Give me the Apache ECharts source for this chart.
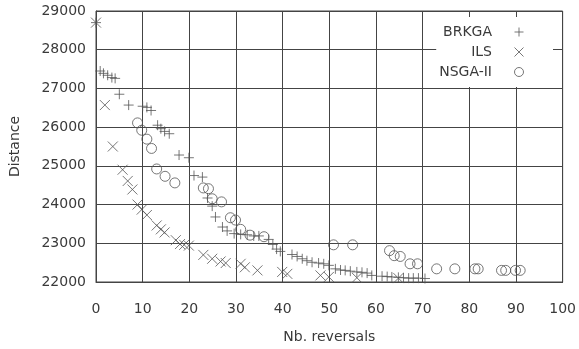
<!DOCTYPE html>
<html>
<head>
<meta charset="utf-8">
<script src="https://cdn.jsdelivr.net/npm/echarts@6/dist/echarts.min.js"></script>
<style>
  html, body { margin: 0; padding: 0; background: #fff; }
  #main { width: 579px; height: 349px; }
</style>
</head>
<body>
<div id="main"></div>
<script>
// points: [nb. reversals, distance]
const brkga = [
  [0, 28700], [0.9, 27450], [1.6, 27390], [2.5, 27340], [3.4, 27280], [4.1, 27260],
  [5.0, 26850], [7.0, 26570], [10.0, 26540], [10.9, 26510], [11.8, 26430],
  [13.2, 26050], [13.9, 25960], [14.7, 25890], [15.7, 25830],
  [17.8, 25280], [19.9, 25210], [21.0, 24750], [22.8, 24710],
  [23.9, 24170], [24.9, 23960], [25.6, 23680], [27.1, 23420], [28.1, 23320],
  [29.6, 23250], [31.0, 23230], [32.4, 23220], [33.8, 23190], [34.9, 23190],
  [37.0, 23100], [37.9, 22970], [38.7, 22850], [39.5, 22790],
  [42.0, 22710], [43.1, 22660], [44.2, 22600], [45.2, 22550], [46.3, 22510],
  [47.7, 22490], [48.8, 22470], [49.9, 22430], [51.3, 22340], [52.4, 22310],
  [53.4, 22300], [54.5, 22280], [55.9, 22260], [57.0, 22250], [58.1, 22230],
  [59.1, 22170], [61.3, 22150], [62.4, 22140], [63.4, 22130], [64.8, 22120],
  [65.9, 22110], [67.0, 22100], [68.0, 22100], [69.1, 22100], [70.5, 22090]
];
const ils = [
  [0, 28700], [1.9, 26570], [3.6, 25500], [5.7, 24900], [6.8, 24610], [7.8, 24390],
  [8.9, 24000], [9.8, 23870], [10.9, 23730], [13.0, 23460], [13.9, 23360],
  [14.7, 23280], [17.1, 23080], [18.0, 22980], [18.9, 22960], [19.9, 22940],
  [23.0, 22700], [24.9, 22600], [26.7, 22530], [27.8, 22490], [31.0, 22470],
  [31.9, 22380], [34.6, 22300], [39.9, 22260], [41.0, 22210],
  [48.1, 22170], [49.9, 22130], [55.9, 22110], [64.8, 22100]
];
const nsga = [
  [8.9, 26110], [9.8, 25920], [10.9, 25690], [11.9, 25450],
  [13.0, 24920], [14.8, 24730], [16.9, 24560],
  [23.0, 24430], [24.1, 24410], [24.9, 24150], [26.9, 24070],
  [28.8, 23660], [29.9, 23600], [31.0, 23360], [33.0, 23210], [36.0, 23170],
  [50.9, 22960], [55.0, 22960], [62.9, 22810], [63.9, 22680], [65.2, 22660],
  [67.3, 22470], [68.9, 22470], [73.0, 22340], [76.9, 22340], [81.2, 22340],
  [81.9, 22340], [86.9, 22300], [87.8, 22300], [89.9, 22300], [90.9, 22300]
];
const xTicks = { min: 0, max: 100, interval: 10 };
const yTicks = { min: 22000, max: 29000, interval: 1000 };

const plusPath = 'path://M5,0L5,10M0,5L10,5';
const crossPath = 'path://M0,0L10,10M10,0L0,10';
const ink = '#555';
const textInk = '#3a3a3a';
const font = 'DejaVu Sans';

let myChart = echarts.init(document.getElementById('main'));
let option = {
  animation: false,
  backgroundColor: '#fff',
  textStyle: { fontFamily: font },
  grid: {
    left: 95, right: 16, top: 11, bottom: 64,
    show: true, borderColor: '#444', borderWidth: 1
  },
  legend: {
    orient: 'vertical',
    align: 'right',
    right: 26,
    top: 17,
    padding: [8, 29, 8, 3],
    itemWidth: 44,
    itemHeight: 9,
    itemGap: 6,
    backgroundColor: '#fff',
    itemStyle: { color: 'transparent', borderColor: ink, borderWidth: 1 },
    textStyle: { fontFamily: font, fontSize: 14, color: textInk },
    data: ['BRKGA', 'ILS', 'NSGA-II']
  },
  xAxis: {
    type: 'value',
    min: xTicks.min, max: xTicks.max, interval: xTicks.interval,
    name: 'Nb. reversals',
    nameLocation: 'middle',
    nameGap: 48,
    nameTextStyle: { fontFamily: font, fontSize: 14, color: textInk },
    axisLine: { lineStyle: { color: '#444' } },
    axisTick: { show: false },
    axisLabel: { fontFamily: font, fontSize: 14, color: textInk, margin: 20 },
    splitLine: { show: true, lineStyle: { color: '#444', width: 1 } }
  },
  yAxis: {
    type: 'value',
    min: yTicks.min, max: yTicks.max, interval: yTicks.interval,
    name: 'Distance',
    nameLocation: 'middle',
    nameGap: 74,
    nameTextStyle: { fontFamily: font, fontSize: 14, color: textInk },
    axisLine: { show: true, lineStyle: { color: '#444' } },
    axisTick: { show: false },
    axisLabel: {
      fontFamily: font, fontSize: 14, color: textInk, margin: 10,
      padding: [6, 0, 0, 0],
      formatter: v => String(v)
    },
    splitLine: { show: true, lineStyle: { color: '#444', width: 1 } }
  },
  series: [
    {
      name: 'BRKGA', type: 'scatter', data: brkga,
      symbol: plusPath, symbolSize: 10,
      itemStyle: { color: 'transparent', borderColor: ink, borderWidth: 1 }
    },
    {
      name: 'ILS', type: 'scatter', data: ils,
      symbol: crossPath, symbolSize: 10,
      itemStyle: { color: 'transparent', borderColor: ink, borderWidth: 1 }
    },
    {
      name: 'NSGA-II', type: 'scatter', data: nsga,
      symbol: 'circle', symbolSize: 10,
      itemStyle: { color: 'transparent', borderColor: ink, borderWidth: 1 }
    }
  ]
};
option && myChart.setOption(option);
</script>
</body>
</html>
